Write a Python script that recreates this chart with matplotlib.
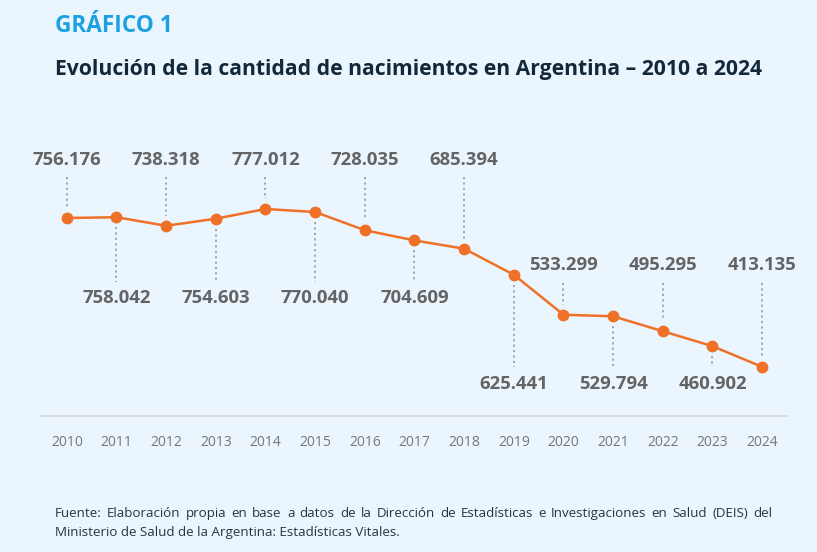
import matplotlib.pyplot as plt
from matplotlib.lines import Line2D

plt.rcParams['font.family'] = ['Open Sans', 'DejaVu Sans']

# Data
years = [2010, 2011, 2012, 2013, 2014, 2015, 2016, 2017,
         2018, 2019, 2020, 2021, 2022, 2023, 2024]
births = [756176, 758042, 738318, 754603, 777012, 770040, 728035, 704609,
          685394, 625441, 533299, 529794, 495295, 460902, 413135]

bg = '#eaf5fd'
orange = '#ee7127'
label_grey = '#646464'
dot_grey = '#a0a0a0'

fig = plt.figure(figsize=(8.17, 5.52), dpi=100, facecolor=bg)
W, H = 817, 552
ax_bottom_px, ax_top_px = 416, 199
ax = fig.add_axes([42 / W, (H - ax_bottom_px) / H, (787 - 42) / W,
                   (ax_bottom_px - ax_top_px) / H])
ax.set_facecolor(bg)
ymin, ymax = 300000, 800000
ax.set_xlim(2009.5, 2024.5)
ax.set_ylim(ymin, ymax)


def ypx(py):
    # figure pixel row -> data value
    return ymin + (ax_bottom_px - py) / (ax_bottom_px - ax_top_px) * (ymax - ymin)


ax.plot(years, births, color=orange, lw=1.8, marker='o', ms=7.5,
        markerfacecolor=orange, markeredgecolor=orange, zorder=3)

gap = ypx(ax_bottom_px - 10) - ymin
for i, (yr, v) in enumerate(zip(years, births)):
    txt = f"{v:,}".replace(",", ".")
    if i % 2 == 0:  # label above
        ly = ypx(160) if yr < 2020 else ypx(265)
        top = ypx(177) if yr < 2020 else ypx(283)
        ax.add_line(Line2D([yr, yr], [top, v + gap], color=dot_grey, lw=1.3,
                           ls=(0, (1.2, 1.8)), clip_on=False))
    else:  # label below
        ly = ypx(298) if yr < 2019 else ypx(384)
        bot = ypx(282) if yr < 2019 else ypx(367)
        ax.add_line(Line2D([yr, yr], [v - gap, bot], color=dot_grey, lw=1.3,
                           ls=(0, (1.2, 1.8)), clip_on=False))
    ax.text(yr, ly, txt, ha='center', va='center', fontsize=13.3,
            fontweight='bold', color=label_grey, clip_on=False)

for s in ['top', 'right', 'left']:
    ax.spines[s].set_visible(False)
ax.spines['bottom'].set_color('#dcdcdc')
ax.spines['bottom'].set_linewidth(1.5)
ax.set_yticks([])
ax.set_xticks(years)
ax.set_xticklabels([str(y) for y in years], fontsize=10, color='#777777')
ax.tick_params(axis='x', length=0, pad=14)

fig.text(55 / W, 1 - 26 / H, 'GRÁFICO 1', fontsize=16.3, fontweight='bold',
         color='#1ba0e2', va='center', ha='left')
fig.text(55 / W, 1 - 70 / H,
         'Evolución de la cantidad de nacimientos en Argentina – 2010 a 2024',
         fontsize=15.2, fontweight='bold', color='#14283a', va='center', ha='left')

# footnote, first line justified between x=55 and x=772
note_color = '#2b3440'
line1 = ('Fuente: Elaboración propia en base a datos de la Dirección de '
         'Estadísticas e Investigaciones en Salud (DEIS) del').split()
renderer = fig.canvas.get_renderer()
words = [fig.text(0, 1 - 517 / H, w, fontsize=9.6, color=note_color,
                  va='baseline', ha='left') for w in line1]
widths = [w.get_window_extent(renderer).width for w in words]
space = (772 - 55 - sum(widths)) / (len(words) - 1)
x = 55
for w, wd in zip(words, widths):
    w.set_x(x / W)
    x += wd + space
fig.text(55 / W, 1 - 536 / H,
         'Ministerio de Salud de la Argentina: Estadísticas Vitales.',
         fontsize=9.6, color=note_color, va='baseline', ha='left')

fig.savefig('out.png', dpi=100, facecolor=bg)
